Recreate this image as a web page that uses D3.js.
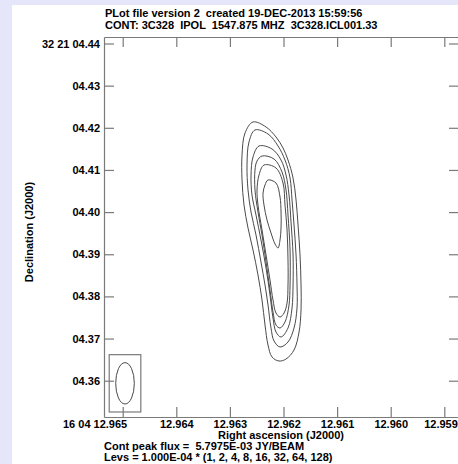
<!DOCTYPE html>
<html>
<head>
<meta charset="utf-8">
<script src="https://cdn.jsdelivr.net/npm/d3@7"></script>
<style>
  html, body { margin: 0; padding: 0; background: #e6e6fa; }
  svg { display: block; }
  text { font-family: "Liberation Sans", Arial, Helvetica, sans-serif; font-weight: bold; font-size: 11px; fill: #000; white-space: pre; }
</style>
</head>
<body>
<svg id="chart" width="458" height="464"></svg>
<script>
// ---------- data ----------
const titleLines = [
  "PLot file version 2  created 19-DEC-2013 15:59:56",
  "CONT: 3C328  IPOL  1547.875 MHZ  3C328.ICL001.33"
];
const footerLines = [
  "Cont peak flux =  5.7975E-03 JY/BEAM",
  "Levs = 1.000E-04 * (1, 2, 4, 8, 16, 32, 64, 128)"
];
const xTitle = "Right ascension (J2000)";
const yTitle = "Declination (J2000)";

// axis extents (RA seconds of 16h04m, Dec arcsec of +32d21')
const raRange = [12.965349, 12.958726];
const decRange = [4.35139, 4.44154];

const raTicks = [12.965, 12.964, 12.963, 12.962, 12.961, 12.960, 12.959];
const raTickLabels = ["16 04 12.965", "12.964", "12.963", "12.962", "12.961", "12.960", "12.959"];
const decTicks = [4.44, 4.43, 4.42, 4.41, 4.40, 4.39, 4.38, 4.37, 4.36];
const decTickLabels = ["32 21 04.44", "04.43", "04.42", "04.41", "04.40", "04.39", "04.38", "04.37", "04.36"];

// contour levels (x 1.000E-04 Jy/beam) that appear, outer to inner
const levels = [1, 2, 4, 8, 16, 32];

// contour outlines: RA (s) and Dec (arcsec)
const contour1RA  = [12.962569,12.962326,12.962140,12.962009,12.961916,12.961822,12.961766,12.961729,12.961692,12.961673,12.961673,12.961710,12.961804,12.961953,12.962084,12.962214,12.962289,12.962345,12.962401,12.962476,12.962569,12.962662,12.962737,12.962774,12.962774,12.962718];
const contour1Dec = [4.42138,4.42019,4.41782,4.41521,4.41236,4.40809,4.40287,4.39694,4.38982,4.38270,4.37677,4.37155,4.36728,4.36515,4.36467,4.36562,4.36847,4.37321,4.37915,4.38508,4.39101,4.39623,4.40168,4.40762,4.41355,4.41877];

const contour2RA  = [12.962532,12.962289,12.962102,12.961972,12.961878,12.961841,12.961804,12.961766,12.961748,12.961748,12.961804,12.961916,12.962065,12.962177,12.962233,12.962289,12.962345,12.962420,12.962513,12.962606,12.962662,12.962681,12.962644];
const contour2Dec = [4.41948,4.41853,4.41568,4.41236,4.40809,4.40287,4.39694,4.38982,4.38270,4.37725,4.37250,4.36918,4.36800,4.36942,4.37250,4.37796,4.38270,4.38816,4.39457,4.40002,4.40524,4.41117,4.41663];

const contour3RA  = [12.962457,12.962214,12.962046,12.961953,12.961897,12.961860,12.961822,12.961822,12.961841,12.961916,12.962046,12.962140,12.962196,12.962252,12.962326,12.962420,12.962513,12.962588,12.962606,12.962569];
const contour3Dec = [4.41568,4.41497,4.41236,4.40880,4.40406,4.39765,4.38982,4.38270,4.37725,4.37250,4.37037,4.37155,4.37488,4.38033,4.38674,4.39338,4.39931,4.40406,4.40880,4.41307];

const contour4RA  = [12.962401,12.962177,12.962028,12.961953,12.961916,12.961878,12.961878,12.961897,12.961972,12.962065,12.962140,12.962196,12.962252,12.962326,12.962401,12.962476,12.962532,12.962532,12.962494];
const contour4Dec = [4.41331,4.41260,4.40951,4.40524,4.39931,4.39101,4.38270,4.37796,4.37393,4.37250,4.37321,4.37630,4.38152,4.38816,4.39457,4.40002,4.40524,4.40999,4.41212];

const contour5RA  = [12.962364,12.962140,12.962009,12.961972,12.961934,12.961916,12.961916,12.961934,12.961990,12.962065,12.962140,12.962196,12.962252,12.962326,12.962401,12.962476,12.962494,12.962457];
const contour5Dec = [4.41117,4.41046,4.40690,4.40168,4.39575,4.38864,4.38270,4.37843,4.37606,4.37511,4.37606,4.37915,4.38389,4.38982,4.39575,4.40168,4.40524,4.40880];

const contour6RA  = [12.962289,12.962140,12.962065,12.962046,12.962046,12.962065,12.962102,12.962158,12.962233,12.962308,12.962364,12.962382,12.962345];
const contour6Dec = [4.40762,4.40690,4.40358,4.40002,4.39623,4.39338,4.39148,4.39243,4.39504,4.39813,4.40168,4.40453,4.40643];

const contourRA  = [contour1RA, contour2RA, contour3RA, contour4RA, contour5RA, contour6RA];
const contourDec = [contour1Dec, contour2Dec, contour3Dec, contour4Dec, contour5Dec, contour6Dec];

// restoring beam (centre RA s, Dec arcsec; axes in arcsec)
const beamCenter = [12.964957, 4.35938];
const beamAxes = [0.0098, 0.0044]; // major, minor
const declinationDeg = 32.35;

// ---------- drawing ----------
const W = 458, H = 464;
const frame = { left: 104, right: 459, top: 37, bottom: 417 };
const svg = d3.select("#chart");

svg.append("rect").attr("x", 0).attr("y", 0).attr("width", W).attr("height", H).attr("fill", "#e6e6fa");
svg.append("rect").attr("x", 12).attr("y", 5).attr("width", W - 12).attr("height", H - 5).attr("fill", "#ffffff");

const x = d3.scaleLinear().domain(raRange).range([frame.left, frame.right]);
const y = d3.scaleLinear().domain(decRange).range([frame.bottom, frame.top]);

const frameColor = "#7a7a7a";

// titles
svg.selectAll("text.title").data(titleLines).join("text")
  .attr("class", "title")
  .attr("x", 105).attr("y", (d, i) => 17 + i * 12)
  .text(d => d);

// axes
function styleAxis(g) {
  g.selectAll(".domain").attr("stroke", frameColor).attr("stroke-width", 1.2);
  g.selectAll(".tick line").attr("stroke", frameColor).attr("stroke-width", 1.2);
  g.attr("font-family", null).attr("font-size", null);
}

const xAxisB = d3.axisBottom(x).tickValues(raTicks).tickSize(-10).tickSizeOuter(0).tickPadding(3)
  .tickFormat((d, i) => raTickLabels[i]);
const gB = svg.append("g").attr("transform", `translate(0,${frame.bottom})`).call(xAxisB).call(styleAxis);
gB.selectAll(".tick text").attr("fill", "#000");
gB.selectAll(".tick text").filter((d, i) => i === 0).attr("text-anchor", "end").attr("dx", "4");
gB.selectAll(".tick text").filter((d, i) => i === raTicks.length - 1).attr("text-anchor", "end").attr("dx", "13");

const xAxisT = d3.axisTop(x).tickValues(raTicks).tickSize(-10).tickSizeOuter(0).tickFormat("");
svg.append("g").attr("transform", `translate(0,${frame.top})`).call(xAxisT).call(styleAxis);

const yAxisL = d3.axisLeft(y).tickValues(decTicks).tickSize(-10).tickSizeOuter(0).tickPadding(4)
  .tickFormat((d, i) => decTickLabels[i]);
const gL = svg.append("g").attr("transform", `translate(${frame.left},0)`).call(yAxisL).call(styleAxis);
gL.selectAll(".tick text").attr("fill", "#000");

const yAxisR = d3.axisRight(y).tickValues(decTicks).tickSize(-10).tickSizeOuter(0).tickFormat("");
svg.append("g").attr("transform", `translate(${frame.right},0)`).call(yAxisR).call(styleAxis);

// axis titles
svg.append("text").attr("x", 281).attr("y", 439).attr("text-anchor", "middle").text(xTitle);
svg.append("text").attr("transform", `translate(33,${(frame.top + frame.bottom) / 2 + 5}) rotate(-90)`)
  .attr("text-anchor", "middle").text(yTitle);

// footer
svg.selectAll("text.footer").data(footerLines).join("text")
  .attr("class", "footer")
  .attr("x", 104).attr("y", (d, i) => 450 + i * 11)
  .text(d => d);

// contours
const line = d3.line().x(d => x(d[0])).y(d => y(d[1])).curve(d3.curveCatmullRomClosed.alpha(0.5));
const contours = levels.map((lev, k) => contourRA[k].map((r, j) => [r, contourDec[k][j]]));
svg.append("g").selectAll("path").data(contours).join("path")
  .attr("d", line)
  .attr("fill", "none").attr("stroke", "#4a4a4a").attr("stroke-width", 1);

// beam
const secPerArcsec = 1 / (15 * Math.cos(declinationDeg * Math.PI / 180));
const cx = x(beamCenter[0]), cy = y(beamCenter[1]);
const rx = Math.abs(x(beamCenter[0] - beamAxes[1] / 2 * secPerArcsec) - cx);
const ry = Math.abs(y(beamCenter[1] + beamAxes[0] / 2) - cy);
svg.append("rect")
  .attr("x", cx - rx - 6.5).attr("y", cy - ry - 8)
  .attr("width", 2 * (rx + 6.5)).attr("height", 2 * (ry + 8))
  .attr("fill", "none").attr("stroke", frameColor).attr("stroke-width", 1.2);
svg.append("ellipse").attr("cx", cx).attr("cy", cy).attr("rx", rx).attr("ry", ry)
  .attr("fill", "none").attr("stroke", "#4a4a4a").attr("stroke-width", 1);
</script>
</body>
</html>
